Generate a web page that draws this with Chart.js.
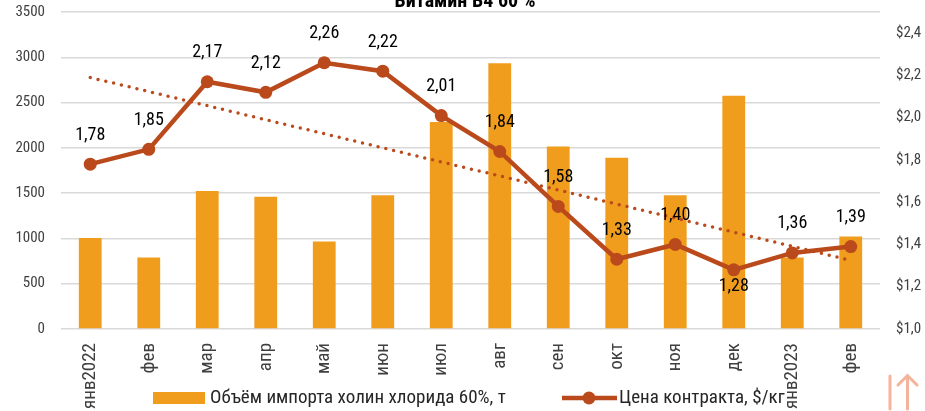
<!DOCTYPE html>
<html>
<head>
<meta charset="utf-8">
<script src="https://cdn.jsdelivr.net/npm/chart.js@4"></script>
<style>
  html, body { margin: 0; padding: 0; background: #fff; overflow: hidden; }
  #wrap { width: 925px; height: 411px; }
</style>
</head>
<body>
<div id="wrap"><canvas id="vitChart" width="925" height="411"></canvas></div>
<script>
const months = ["янв2022", "фев", "мар", "апр", "май", "июн", "июл", "авг", "сен", "окт", "ноя", "дек", "янв2023", "фев"];
const importVolume = [1005, 790, 1525, 1460, 965, 1478, 2285, 2935, 2015, 1890, 1478, 2575, 790, 1020];
const contractPrice = [1.78, 1.85, 2.17, 2.12, 2.26, 2.22, 2.01, 1.84, 1.58, 1.33, 1.40, 1.28, 1.36, 1.39];
// линия тренда: только концы, промежуток дорисовывает spanGaps
const trendPrice = [2.19, null, null, null, null, null, null, null, null, null, null, null, null, 1.325];
const volumeTicks = [0, 3500, 500];
const priceTicks = [1.0, 2.5, 0.2];

const title = "Витамин В4 60 %";
const FONT = "'Roboto Condensed', Roboto, sans-serif";
const BAR = "#F09D1E";
const LINE = "#BA4A1B";
const belowLabels = [11];

Chart.defaults.font.family = FONT;

const titlePlugin = {
  id: "cutTitle",
  afterDraw(chart) {
    const ctx = chart.ctx;
    ctx.save();
    ctx.font = "bold 20px " + FONT;
    ctx.fillStyle = "#000";
    ctx.textAlign = "center";
    ctx.textBaseline = "alphabetic";
    ctx.fillText(title, 465, 7);
    ctx.restore();
  }
};

const valueLabels = {
  id: "valueLabels",
  afterDatasetsDraw(chart) {
    const ctx = chart.ctx;
    const meta = chart.getDatasetMeta(1);
    ctx.save();
    ctx.font = "18px " + FONT;
    ctx.fillStyle = "#000";
    ctx.textAlign = "center";
    ctx.textBaseline = "middle";
    meta.data.forEach((pt, i) => {
      const txt = contractPrice[i].toFixed(2).replace(".", ",");
      const dy = belowLabels.includes(i) ? 17 : -29;
      ctx.fillText(txt, pt.x, pt.y + dy);
    });
    ctx.restore();
  }
};

const legendPlugin = {
  id: "bottomLegend",
  afterDraw(chart) {
    const ctx = chart.ctx;
    const ds = chart.data.datasets;
    ctx.save();
    ctx.font = "19px " + FONT;
    ctx.textBaseline = "middle";
    ctx.textAlign = "left";
    // столбцы
    ctx.fillStyle = BAR;
    ctx.fillRect(153, 392, 52, 12);
    ctx.fillStyle = "#262626";
    ctx.fillText(ds[0].label, 210, 398);
    // линия
    ctx.strokeStyle = LINE;
    ctx.lineWidth = 4.5;
    ctx.beginPath();
    ctx.moveTo(562, 398);
    ctx.lineTo(617, 398);
    ctx.stroke();
    ctx.fillStyle = LINE;
    ctx.beginPath();
    ctx.arc(589, 398, 6.5, 0, Math.PI * 2);
    ctx.fill();
    ctx.fillStyle = "#262626";
    ctx.fillText(ds[1].label, 619, 398);
    // значок наверх
    ctx.strokeStyle = "#F4B49C";
    ctx.lineWidth = 3;
    ctx.lineCap = "round";
    ctx.beginPath();
    ctx.moveTo(890, 376); ctx.lineTo(890, 409);
    ctx.moveTo(907.5, 377); ctx.lineTo(907.5, 409);
    ctx.moveTo(898, 385); ctx.lineTo(907.5, 375.5); ctx.lineTo(917, 385);
    ctx.stroke();
    ctx.restore();
  }
};

function drawingChart() {
  const context = document.getElementById("vitChart").getContext("2d");
  return new Chart(context, {
    type: "bar",
    data: {
      labels: months,
      datasets: [{
        label: "Объём импорта холин хлорида 60%, т",
        data: importVolume,
        backgroundColor: BAR,
        borderWidth: 0,
        barPercentage: 0.39,
        categoryPercentage: 1,
        yAxisID: "y",
        order: 3
      }, {
        label: "Цена контракта, $/кг",
        type: "line",
        data: contractPrice,
        borderColor: LINE,
        backgroundColor: LINE,
        borderWidth: 4.5,
        pointRadius: 6.5,
        pointBackgroundColor: LINE,
        pointBorderWidth: 0,
        tension: 0,
        yAxisID: "y1",
        order: 1
      }, {
        label: "trend",
        type: "line",
        data: trendPrice,
        spanGaps: true,
        borderColor: LINE,
        borderWidth: 3.5,
        borderDash: [0, 8],
        borderCapStyle: "round",
        pointRadius: 0,
        yAxisID: "y1",
        order: 2
      }]
    },
    options: {
      responsive: false,
      devicePixelRatio: 1,
      animation: false,
      layout: { padding: { top: 12, bottom: 0, left: 0, right: 0 } },
      plugins: {
        legend: { display: false },
        tooltip: { enabled: false }
      },
      scales: {
        x: {
          offset: true,
          grid: { display: false },
          border: { display: false },
          ticks: {
            color: "#404040",
            font: { size: 19 },
            minRotation: 90,
            maxRotation: 90,
            padding: 6,
            autoSkip: false
          },
          afterFit(scale) { scale.height = 82; }
        },
        y: {
          position: "left",
          min: volumeTicks[0],
          max: volumeTicks[1],
          grid: { color: "#D9D9D9", lineWidth: 1.5, drawTicks: true, tickLength: 16, tickColor: "rgba(0,0,0,0)" },
          border: { display: false },
          ticks: {
            stepSize: volumeTicks[2],
            color: "#404040",
            font: { size: 15 },
            padding: 0,
            callback: (v) => String(v)
          },
          afterFit(scale) { scale.width = 61; }
        },
        y1: {
          position: "right",
          min: priceTicks[0],
          max: priceTicks[1],
          grid: { display: true, drawOnChartArea: false, drawTicks: true, tickLength: 16, tickColor: "rgba(0,0,0,0)", color: "rgba(0,0,0,0)" },
          border: { display: false },
          ticks: {
            stepSize: priceTicks[2],
            color: "#404040",
            font: { size: 15 },
            padding: 0,
            callback: (v) => "$" + v.toFixed(1).replace(".", ",")
          },
          afterBuildTicks(scale) {
            scale.ticks = scale.ticks.filter(t => t.value <= 2.41);
          },
          afterFit(scale) { scale.width = 45; }
        }
      }
    },
    plugins: [titlePlugin, valueLabels, legendPlugin]
  });
}

drawingChart();
</script>
</body>
</html>
